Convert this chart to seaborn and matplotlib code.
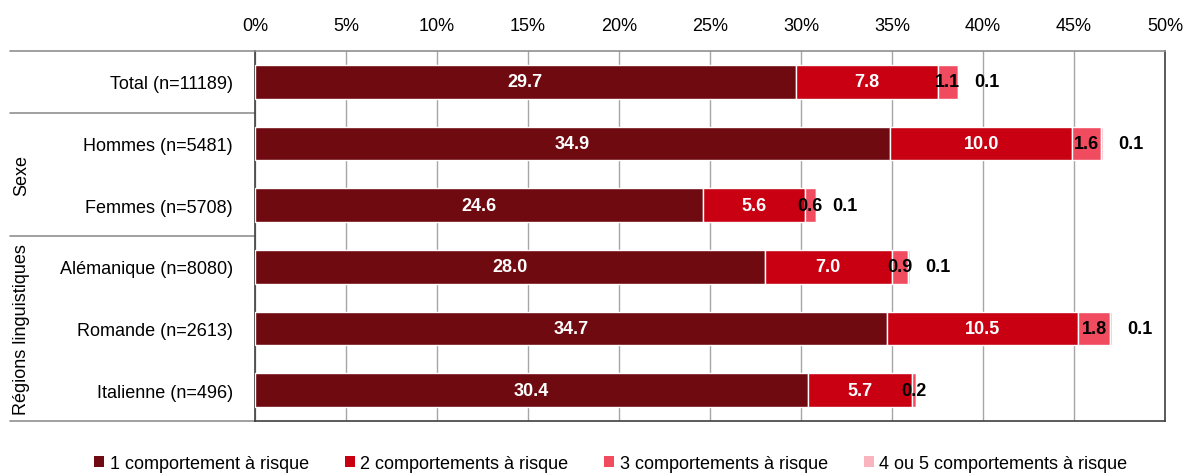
import matplotlib
matplotlib.use("Agg")
import matplotlib.pyplot as plt
import seaborn as sns
import pandas as pd
import numpy as np
from matplotlib.patches import Patch
from matplotlib.ticker import FuncFormatter

# data (% of respondents)
categories = ["Total (n=11189)", "Hommes (n=5481)", "Femmes (n=5708)",
              "Alémanique (n=8080)", "Romande (n=2613)", "Italienne (n=496)"]
one_behaviour = [29.7, 34.9, 24.6, 28.0, 34.7, 30.4]
two_behaviours = [7.8, 10.0, 5.6, 7.0, 10.5, 5.7]
three_behaviours = [1.1, 1.6, 0.6, 0.9, 1.8, 0.2]
four_five_behaviours = [0.1, 0.1, 0.1, 0.1, 0.1, 0.0]

series_names = ["1 comportement à risque", "2 comportements à risque",
                "3 comportements à risque", "4 ou 5 comportements à risque"]
series_values = [one_behaviour, two_behaviours, three_behaviours, four_five_behaviours]
colors = ["#6e0a10", "#c80012", "#f04b5f", "#f9b4bd"]
x_ticks = list(range(0, 55, 5))

sns.set_style("white")
plt.rcParams["font.family"] = ["Liberation Sans", "DejaVu Sans"]
plt.rcParams["font.size"] = 13
plt.rcParams["text.color"] = "black"
plt.rcParams["xtick.color"] = "black"
plt.rcParams["ytick.color"] = "black"

fig = plt.figure(figsize=(11.86, 4.77), dpi=100)
ax = fig.add_axes([255 / 1186, 1 - 422 / 477, 910 / 1186, 370 / 477])

left = np.zeros(len(categories))
for name, vals, col in zip(series_names, series_values, colors):
    df = pd.DataFrame({"cat": categories, "val": vals})
    sns.barplot(data=df, y="cat", x="val", order=categories, color=col,
                orient="y", width=0.55, left=left, edgecolor="white",
                linewidth=1, saturation=1, ax=ax, zorder=3)
    left = left + np.array(vals)

# value labels
for i, cont in enumerate(ax.containers):
    vals = series_values[i]
    labels = [f"{v:.1f}" if v > 0 else "" for v in vals]
    if i < 2:
        ax.bar_label(cont, labels=labels, label_type="center", color="white",
                     fontweight="bold", fontsize=13)
    elif i == 2:
        ax.bar_label(cont, labels=labels, label_type="center", color="black",
                     fontweight="bold", fontsize=13)
    else:
        ax.bar_label(cont, labels=labels, label_type="edge", padding=11,
                     color="black", fontweight="bold", fontsize=13)

ax.set_xlim(0, 50)
ax.set_ylim(5.5, -0.5)
ax.set_xticks(x_ticks)
ax.xaxis.set_major_formatter(FuncFormatter(lambda v, p: f"{v:.0f}%"))
ax.xaxis.tick_top()
ax.tick_params(axis="x", length=0, pad=12, labelsize=13, labelcolor="black")
ax.tick_params(axis="y", length=0, pad=16, labelsize=13, labelcolor="black")
ax.set_xlabel("")
ax.set_ylabel("")
ax.grid(axis="x", color="#a6a6a6", linewidth=1)
ax.set_axisbelow(True)

for side in ["left", "right", "bottom"]:
    ax.spines[side].set_visible(True)
    ax.spines[side].set_color("#404040")
    ax.spines[side].set_linewidth(1.2)
ax.spines["top"].set_color("#909090")
ax.spines["top"].set_linewidth(1.2)

# group separators on the left
trans = ax.get_yaxis_transform()
x_left = (10 - 255) / 910
for yv in [-0.5, 0.5, 2.5, 5.5]:
    ax.plot([x_left, 0], [yv, yv], color="#909090", linewidth=1.2,
            transform=trans, clip_on=False)

fig.text(22 / 1186, 1 - 175 / 477, "Sexe", rotation=90, ha="center", va="center",
         fontsize=13)
fig.text(22 / 1186, 1 - 330 / 477, "Régions linguistiques", rotation=90,
         ha="center", va="center", fontsize=13)

handles = [Patch(facecolor=c, edgecolor="none") for c in colors]
fig.legend(handles, series_names, loc="lower center", bbox_to_anchor=(0.515, -0.025),
           ncol=4, frameon=False, fontsize=13, handlelength=0.55, handleheight=0.55,
           handletextpad=0.3, columnspacing=2.0)

fig.savefig("out.png", dpi=100)
plt.close(fig)
